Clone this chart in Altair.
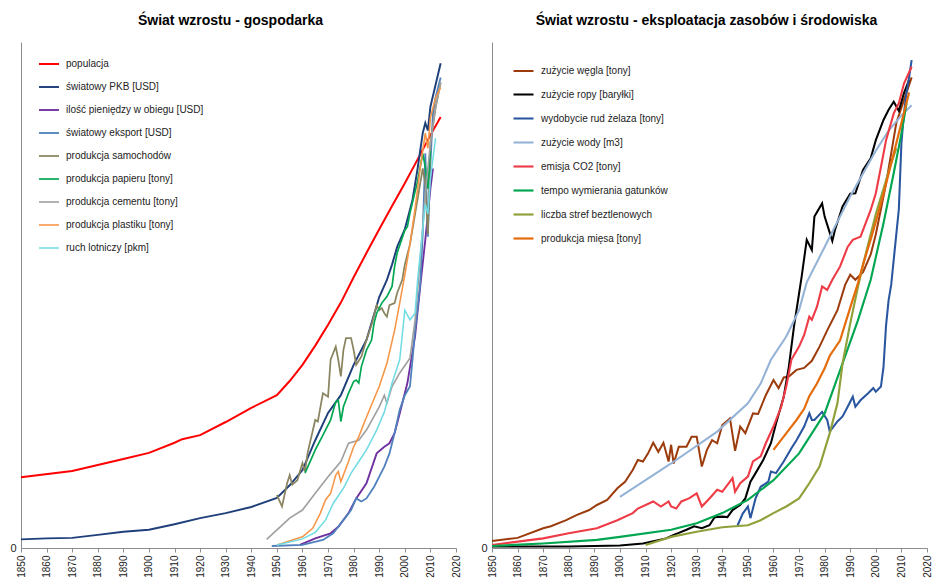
import altair as alt
import pandas as pd

FONT = "Liberation Sans"

# ---------- Świat wzrostu - gospodarka (indeksowane 0-100) ----------
POP_YEARS = [1850, 1870, 1880, 1890, 1900, 1910, 1913, 1920, 1930, 1940, 1950, 1955, 1960, 1965,
             1970, 1975, 1980, 1985, 1990, 1995, 2000, 2005, 2010, 2014]
POP_VALS = [14.0, 15.2, 16.4, 17.6, 18.8, 20.8, 21.5, 22.3, 24.9, 27.7, 30.2, 33.0, 36.2, 40.0,
            44.1, 48.5, 53.5, 58.3, 63.0, 67.6, 72.1, 76.8, 81.6, 85.2]

GDP_YEARS = [1850, 1860, 1870, 1880, 1890, 1900, 1910, 1920, 1930, 1940, 1950, 1955, 1960, 1965,
             1970, 1975, 1980, 1985, 1990, 1993, 1995, 1997, 2000, 2003, 2005, 2007, 2008, 2009,
             2010, 2012, 2014]
GDP_VALS = [1.7, 1.9, 2.0, 2.6, 3.2, 3.6, 4.7, 5.9, 6.9, 8.1, 9.9, 12.4, 15.4, 21.3,
            26.7, 30.2, 36.2, 41.1, 49.6, 53.0, 56.0, 59.5, 63.0, 68.8, 75.0, 82.0, 84.0, 82.5,
            87.2, 91.5, 95.8]

MONEY_YEARS = [1959, 1965, 1971, 1974, 1978, 1981, 1985, 1989, 1992, 1994, 1996, 1998, 2001,
               2004, 2006, 2008, 2009, 2010, 2011]
MONEY_VALS = [0.6, 1.9, 2.9, 4.2, 6.9, 9.8, 12.8, 18.7, 20.0, 20.7, 22.7, 26.6, 32.6,
              41.8, 51.6, 60.9, 66.0, 71.0, 75.0]

EXPORT_YEARS = [1948, 1960, 1968, 1972, 1974, 1976, 1979, 1981, 1983, 1985, 1988, 1990, 1992,
                1994, 1996, 1998, 2000, 2002, 2003, 2004, 2006, 2007, 2008, 2009, 2010, 2011,
                2012, 2013, 2014]
EXPORT_VALS = [0.4, 0.6, 1.6, 2.9, 4.2, 5.5, 7.5, 9.8, 9.2, 9.8, 12.1, 14.1, 16.1,
               18.7, 22.7, 27.3, 30.2, 31.9, 37.2, 43.1, 52.0, 62.0, 78.0, 61.5, 76.0, 86.0,
               89.0, 91.0, 93.0]

CARS_YEARS = [1950, 1952, 1954, 1955, 1956, 1958, 1960, 1961, 1962, 1965, 1966, 1968, 1970,
              1971, 1973, 1974, 1975, 1976, 1977, 1979, 1980, 1981, 1983, 1985, 1987, 1989,
              1990, 1991, 1992, 1993, 1994, 1996, 1997, 1999, 2000, 2002, 2004, 2006, 2007,
              2008, 2009, 2010, 2012, 2014]
CARS_VALS = [10.5, 8.2, 12.8, 14.4, 12.5, 13.4, 16.8, 15.1, 18.8, 25.3, 25.0, 30.6, 29.9,
             37.2, 39.8, 37.2, 33.9, 39.1, 41.5, 41.5, 39.1, 36.2, 37.8, 41.1, 44.1, 48.0,
             47.0, 47.4, 46.4, 45.7, 48.0, 48.4, 50.4, 53.0, 56.0, 60.0, 66.0, 72.0, 75.0,
             72.0, 62.0, 80.0, 87.0, 92.0]

PAPER_YEARS = [1961, 1965, 1968, 1971, 1973, 1974, 1975, 1976, 1978, 1980, 1981, 1982, 1983,
               1985, 1987, 1988, 1989, 1991, 1993, 1995, 1996, 1997, 2000, 2001, 2002, 2005,
               2007, 2008, 2009, 2010]
PAPER_VALS = [14.8, 19.4, 22.3, 25.3, 28.9, 29.2, 25.0, 27.9, 30.6, 32.9, 33.2, 32.6, 35.8,
              39.1, 41.1, 44.5, 46.4, 48.4, 49.7, 51.7, 55.6, 58.3, 62.8, 63.5, 66.2, 72.5,
              78.0, 75.3, 71.0, 78.5]

CEMENT_YEARS = [1946, 1955, 1960, 1965, 1970, 1975, 1978, 1982, 1985, 1990, 1992, 1993, 1995,
                1998, 2002, 2004, 2006, 2008, 2010, 2012, 2014]
CEMENT_VALS = [1.7, 5.9, 7.5, 10.8, 14.1, 17.1, 20.7, 21.3, 23.3, 27.9, 30.2, 28.6, 31.9,
               34.6, 37.5, 45.0, 57.0, 70.0, 80.0, 87.0, 92.0]

PLASTIC_YEARS = [1950, 1960, 1964, 1967, 1969, 1971, 1973, 1974, 1975, 1978, 1980, 1982, 1984,
                 1987, 1990, 1993, 1996, 1998, 2000, 2002, 2004, 2006, 2008, 2009, 2010, 2012,
                 2014]
PLASTIC_VALS = [0.6, 2.2, 3.9, 6.9, 9.5, 10.8, 14.4, 15.1, 13.1, 17.1, 20.0, 22.0, 24.6,
                28.3, 31.9, 36.5, 43.0, 48.4, 54.0, 60.0, 67.0, 75.0, 82.0, 79.0, 85.0, 89.0,
                91.0]

AIR_YEARS = [1950, 1960, 1965, 1969, 1972, 1976, 1979, 1982, 1985, 1989, 1992, 1995, 1998,
             2000, 2002, 2004, 2005, 2007, 2008, 2009, 2010, 2012]
AIR_VALS = [0.6, 1.8, 3.1, 5.5, 8.8, 11.8, 14.8, 17.1, 19.4, 23.3, 26.9, 32.6, 37.2,
            47.0, 45.1, 46.4, 53.0, 63.0, 68.0, 66.0, 73.0, 81.0]

ECON_NAMES = ["populacja", "światowy PKB [USD]", "ilość pieniędzy w obiegu [USD]",
              "światowy eksport [USD]", "produkcja samochodów", "produkcja papieru [tony]",
              "produkcja cementu [tony]", "produkcja plastiku [tony]", "ruch lotniczy [pkm]"]
ECON_COLORS = ["#FF0000", "#1F3F7A", "#7030A0", "#4F81BD", "#8A8560", "#00A651",
               "#A0A0A0", "#F79646", "#6FDCE3"]
ECON_WIDTHS = [2.0, 1.5, 1.6, 2.0, 1.8, 1.8, 1.8, 1.5, 1.8]
ECON_SERIES = [(POP_YEARS, POP_VALS), (GDP_YEARS, GDP_VALS), (MONEY_YEARS, MONEY_VALS),
               (EXPORT_YEARS, EXPORT_VALS), (CARS_YEARS, CARS_VALS), (PAPER_YEARS, PAPER_VALS),
               (CEMENT_YEARS, CEMENT_VALS), (PLASTIC_YEARS, PLASTIC_VALS), (AIR_YEARS, AIR_VALS)]

# ---------- Świat wzrostu - eksploatacja zasobów i środowiska ----------
COAL_YEARS = [1850, 1860, 1870, 1873, 1879, 1883, 1888, 1891, 1895, 1899, 1902, 1905, 1907,
              1909, 1911, 1913, 1915, 1917, 1919, 1920, 1921, 1923, 1926, 1928, 1930, 1932,
              1934, 1936, 1938, 1940, 1943, 1945, 1947, 1949, 1952, 1954, 1957, 1960, 1962,
              1964, 1966, 1969, 1972, 1975, 1978, 1981, 1985, 1988, 1990, 1992, 1995, 1998,
              2000, 2002, 2004, 2006, 2008, 2010, 2012, 2014]
COAL_VALS = [1.4, 2.0, 3.9, 4.3, 5.5, 6.5, 7.5, 8.5, 9.5, 11.8, 13.1, 15.4, 17.4,
             17.1, 18.7, 20.8, 19.0, 20.8, 17.1, 20.4, 16.7, 20.0, 20.0, 22.0, 22.0, 16.1,
             19.4, 21.3, 20.7, 24.3, 25.6, 19.2, 24.0, 22.7, 26.6, 26.5, 30.2, 33.2, 31.6,
             33.7, 33.9, 35.2, 35.6, 37.0, 39.8, 43.0, 47.0, 52.0, 54.0, 53.0, 54.5, 58.0,
             62.0, 67.0, 72.0, 78.0, 84.0, 87.0, 90.0, 93.0]

OIL_YEARS = [1850, 1880, 1900, 1909, 1918, 1921, 1923, 1926, 1929, 1932, 1935, 1937, 1940,
             1942, 1944, 1947, 1949, 1951, 1953, 1956, 1959, 1961, 1964, 1966, 1968, 1970,
             1971, 1973, 1975, 1976, 1979, 1980, 1983, 1984, 1987, 1990, 1992, 1995, 1998,
             2000, 2003, 2005, 2007, 2009, 2011, 2013]
OIL_VALS = [0.3, 0.3, 0.5, 0.9, 1.9, 2.6, 3.0, 3.6, 4.3, 3.9, 4.5, 6.1, 6.2,
            6.1, 7.5, 8.5, 9.8, 13.1, 14.8, 17.4, 20.7, 24.6, 29.9, 35.8, 43.7, 50.3,
            53.6, 60.9, 58.9, 65.5, 68.1, 65.5, 60.7, 62.8, 67.5, 70.0, 70.1, 74.7, 77.0,
            80.6, 84.6, 86.6, 88.2, 86.4, 89.9, 92.5]

IRON_YEARS = [1946, 1948, 1950, 1951, 1953, 1955, 1958, 1959, 1961, 1964, 1967, 1969, 1972,
              1974, 1975, 1976, 1979, 1981, 1982, 1985, 1987, 1989, 1991, 1992, 1994, 1997,
              1999, 2000, 2002, 2003, 2004, 2005, 2006, 2008, 2009, 2010, 2011, 2012, 2013,
              2014]
IRON_VALS = [4.5, 6.8, 8.2, 5.9, 9.8, 12.1, 13.1, 15.1, 14.8, 17.1, 19.7, 21.3, 24.0,
             26.6, 25.3, 25.3, 26.9, 25.3, 23.0, 25.0, 26.0, 27.9, 29.9, 27.9, 29.2, 30.6,
             31.6, 30.9, 31.9, 35.8, 44.0, 49.0, 52.0, 62.0, 67.0, 80.0, 86.0, 90.0, 93.0,
             96.4]

WATER_YEARS = [1900, 1920, 1938, 1950, 1955, 1959, 1965, 1970, 1973, 1980, 1985, 1990, 1995,
               2000, 2005, 2010, 2014]
WATER_VALS = [10.1, 16.7, 23.0, 28.6, 32.5, 37.2, 41.8, 47.0, 52.5, 59.5, 64.5, 69.5, 74.0,
              78.5, 82.5, 85.5, 87.5]

CO2_YEARS = [1850, 1870, 1880, 1891, 1899, 1905, 1907, 1913, 1916, 1919, 1920, 1922, 1924,
             1927, 1930, 1932, 1935, 1938, 1940, 1944, 1945, 1947, 1950, 1952, 1955, 1957,
             1960, 1963, 1965, 1967, 1970, 1972, 1974, 1975, 1977, 1979, 1981, 1983, 1986,
             1989, 1991, 1994, 1997, 1998, 2000, 2002, 2004, 2007, 2009, 2011, 2014]
CO2_VALS = [0.6, 1.9, 2.9, 3.9, 5.5, 6.9, 7.8, 9.2, 8.2, 9.2, 8.2, 7.8, 9.2,
            9.8, 10.8, 8.2, 9.8, 11.5, 11.1, 13.8, 11.1, 12.8, 14.1, 17.1, 18.1, 20.7,
            24.0, 27.9, 31.9, 37.2, 39.8, 42.1, 45.7, 45.1, 47.7, 51.7, 51.0, 53.0, 55.6,
            59.5, 60.9, 61.5, 65.5, 66.8, 70.1, 75.3, 80.6, 85.9, 87.9, 91.8, 95.1]

SPECIES_YEARS = [1850, 1870, 1891, 1900, 1920, 1930, 1940, 1950, 1960, 1970, 1980, 1987, 1993,
                 1998, 2003, 2007, 2010, 2012]
SPECIES_VALS = [0.4, 0.9, 1.6, 2.2, 3.6, 4.9, 6.9, 9.5, 13.4, 18.7, 26.6, 36.5, 45.0,
                53.0, 64.2, 74.1, 81.9, 87.9]

ANOXIC_YEARS = [1910, 1920, 1930, 1940, 1950, 1955, 1960, 1965, 1970, 1974, 1978, 1982, 1985,
                1987, 1990, 1993, 1995, 1998, 2000, 2003, 2006, 2008]
ANOXIC_VALS = [0.6, 2.2, 3.2, 4.1, 4.5, 5.5, 6.9, 8.2, 9.8, 12.8, 16.1, 22.7, 28.6,
               36.5, 44.4, 51.6, 56.0, 62.0, 66.0, 71.0, 76.0, 79.0]

MEAT_YEARS = [1960, 1964, 1967, 1969, 1972, 1974, 1977, 1980, 1982, 1986, 1990, 1993, 1995,
              1998, 2000, 2003, 2006, 2008, 2010, 2012, 2013]
MEAT_VALS = [19.4, 22.0, 24.0, 25.3, 27.5, 30.0, 32.5, 35.5, 38.0, 41.0, 47.5, 52.3, 56.0,
             61.0, 64.5, 70.0, 76.0, 80.0, 84.0, 88.0, 90.0]

ENV_NAMES = ["zużycie węgla [tony]", "zużycie ropy [baryłki]", "wydobycie rud żelaza [tony]",
             "zużycie wody [m3]", "emisja CO2 [tony]", "tempo wymierania gatunków",
             "liczba stref beztlenowych", "produkcja mięsa [tony]"]
ENV_COLORS = ["#9C3B0C", "#000000", "#2A56A0", "#95B3D7", "#EE3B46", "#00A650",
              "#8FA13A", "#E46C0A"]
ENV_WIDTHS = [2.0, 2.2, 1.6, 1.6, 1.6, 2.0, 1.8, 1.6]
ENV_SERIES = [(COAL_YEARS, COAL_VALS), (OIL_YEARS, OIL_VALS), (IRON_YEARS, IRON_VALS),
              (WATER_YEARS, WATER_VALS), (CO2_YEARS, CO2_VALS), (SPECIES_YEARS, SPECIES_VALS),
              (ANOXIC_YEARS, ANOXIC_VALS), (MEAT_YEARS, MEAT_VALS)]

TICK_YEARS = list(range(1850, 2021, 10))


def long_table(names, series):
    rows = []
    for name, (years, vals) in zip(names, series):
        for yr, v in zip(years, vals):
            rows.append({"rok": yr, "wartosc": v, "seria": name})
    return pd.DataFrame(rows)


def panel(df, names, colors, widths, title, leg_x, leg_y, title_dx):
    x = alt.X("rok:Q",
              scale=alt.Scale(domain=[1850, 2020], nice=False, zero=False),
              axis=alt.Axis(values=TICK_YEARS, format="d", labelAngle=270, title=None,
                            grid=False, tickSize=4, labelFontSize=10, labelFont=FONT,
                            labelColor="#222222", domainColor="#8C8C8C", tickColor="#8C8C8C",
                            labelPadding=3, labelOverlap=False, labelFlush=False))
    y = alt.Y("wartosc:Q",
              scale=alt.Scale(domain=[0, 100], nice=False),
              axis=alt.Axis(values=[0], title=None, grid=False, ticks=False, labelPadding=5,
                            domainColor="#8C8C8C", labelFontSize=11, labelFont=FONT,
                            labelColor="#222222"))
    color = alt.Color("seria:N",
                      scale=alt.Scale(domain=names, range=colors),
                      legend=alt.Legend(title=None, orient="none", legendX=leg_x, legendY=leg_y,
                                        symbolType="stroke", symbolSize=400,
                                        symbolStrokeWidth=2, labelFontSize=10, labelFont=FONT,
                                        labelColor="#222222", rowPadding=7, labelOffset=6,
                                        padding=0, labelLimit=300))
    width = alt.StrokeWidth("seria:N", scale=alt.Scale(domain=names, range=widths), legend=None)
    return (
        alt.Chart(df)
        .mark_line()
        .encode(x=x, y=y, color=color, strokeWidth=width)
        .properties(
            width=435, height=506,
            title=alt.TitleParams(title, fontSize=14, font=FONT, fontWeight="bold",
                                  color="#000000", anchor="middle", frame="group",
                                  offset=14, dx=title_dx),
        )
    )


left = panel(long_table(ECON_NAMES, ECON_SERIES), ECON_NAMES, ECON_COLORS, ECON_WIDTHS,
             "Świat wzrostu - gospodarka", 17, 11, -8)
right = panel(long_table(ENV_NAMES, ENV_SERIES), ENV_NAMES, ENV_COLORS, ENV_WIDTHS,
              "Świat wzrostu - eksploatacja zasobów i środowiska", 20, 18, -3)

chart = (
    alt.hconcat(left, right, spacing=19)
    .resolve_scale(color="independent", strokeWidth="independent")
    .resolve_legend(color="independent")
    .properties(padding={"left": 9, "top": 14, "right": 2, "bottom": 2}, background="white")
    .configure_view(stroke=None)
)

chart.save("out.html", embed_options={"renderer": "svg", "actions": False})
